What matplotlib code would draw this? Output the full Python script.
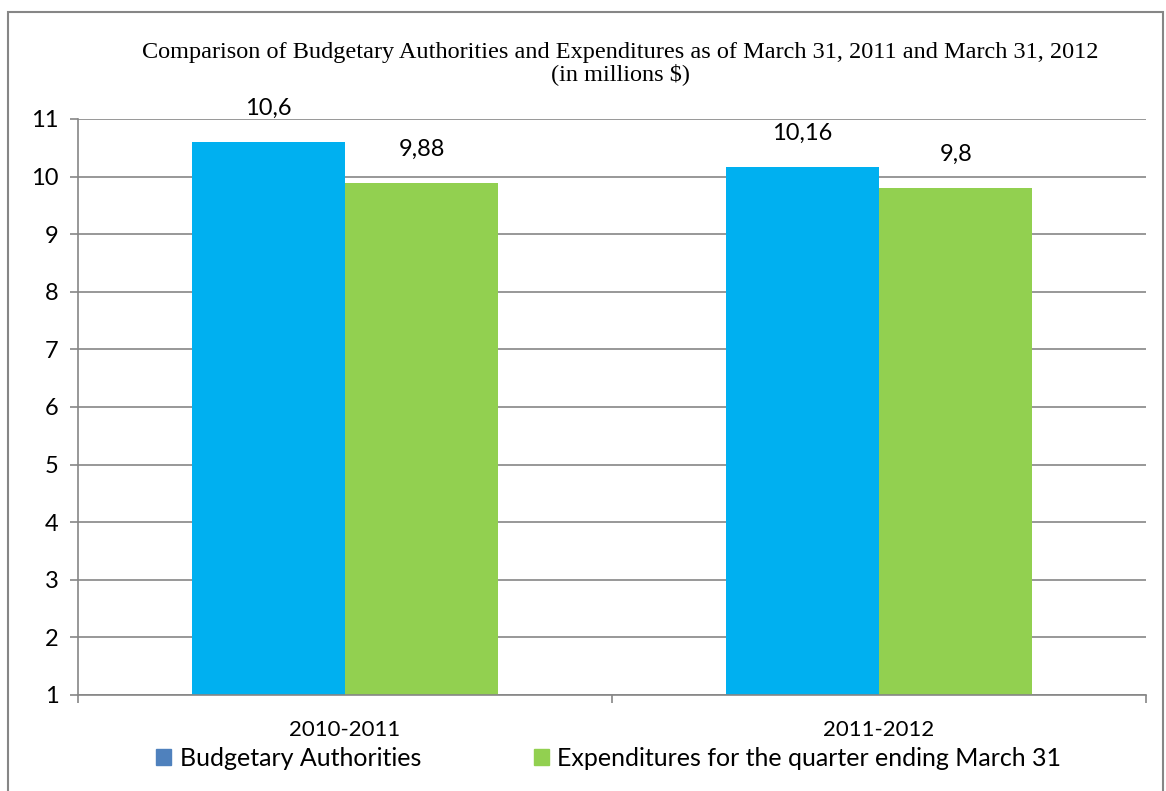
import numpy as np
import matplotlib.pyplot as plt
from matplotlib.patches import Rectangle, Patch

categories = ["2010-2011", "2011-2012"]
budget = [10.6, 10.16]
expend = [9.88, 9.8]
series_names = ["Budgetary Authorities", "Expenditures for the quarter ending March 31"]

plt.rcParams['font.family'] = ['Lato', 'DejaVu Sans']

fig = plt.figure(figsize=(11.66, 7.91), dpi=100)
ax = fig.add_axes([0.0669, 0.1214, 0.916, 0.7282])

x = np.arange(len(categories))
w = 0.287
b1 = ax.bar(x - w / 2, budget, w, bottom=0, color="#00B0F0", zorder=2)
b2 = ax.bar(x + w / 2, expend, w, bottom=0, color="#92D050", zorder=2)

for bars, vals in ((b1, budget), (b2, expend)):
    ax.bar_label(bars, labels=[str(v).replace('.', ',') for v in vals],
                 padding=17, fontsize=17)

ax.set_ylim(1, 11)
ax.set_xlim(-0.5, 1.5)
ax.set_yticks(range(1, 12))
ax.yaxis.grid(True, color="#868686", linewidth=1.2, zorder=0)
ax.set_axisbelow(True)

ax.set_xticks([-0.5, 0.5, 1.5], minor=False)
ax.set_xticklabels([])
ax.set_xticks(x, minor=True)
ax.set_xticklabels(categories, minor=True, fontsize=16)
ax.tick_params(axis='x', which='minor', length=0, pad=18)
ax.tick_params(axis='x', which='major', length=6, color="#868686", width=1.2)
ax.tick_params(axis='y', length=6, color="#868686", width=1.2, labelsize=17, pad=8)

for s in ("top", "right"):
    ax.spines[s].set_visible(False)
for s in ("left", "bottom"):
    ax.spines[s].set_color("#868686")
    ax.spines[s].set_linewidth(1.2)

fig.text(0.532, 0.92, "Comparison of Budgetary Authorities and Expenditures as of March 31, 2011 and March 31, 2012\n(in millions $)",
         ha="center", va="center", fontsize=17.5, family="Liberation Serif", linespacing=1.0)

handles = [Patch(color="#4F81BD"), Patch(color="#92D050")]
fig.legend(handles, series_names, loc="center", bbox_to_anchor=(0.522, 0.041), ncol=2,
           frameon=False, fontsize=18, handlelength=0.6, handleheight=0.6,
           handletextpad=0.35, columnspacing=4.5)

fig.patches.append(Rectangle((8 / 1166, -0.01), (1163 - 8) / 1166, 1 - 12 / 791 + 0.01,
                             transform=fig.transFigure, fill=False,
                             edgecolor="#868686", linewidth=1.5))

fig.savefig("out.png", dpi=100)
